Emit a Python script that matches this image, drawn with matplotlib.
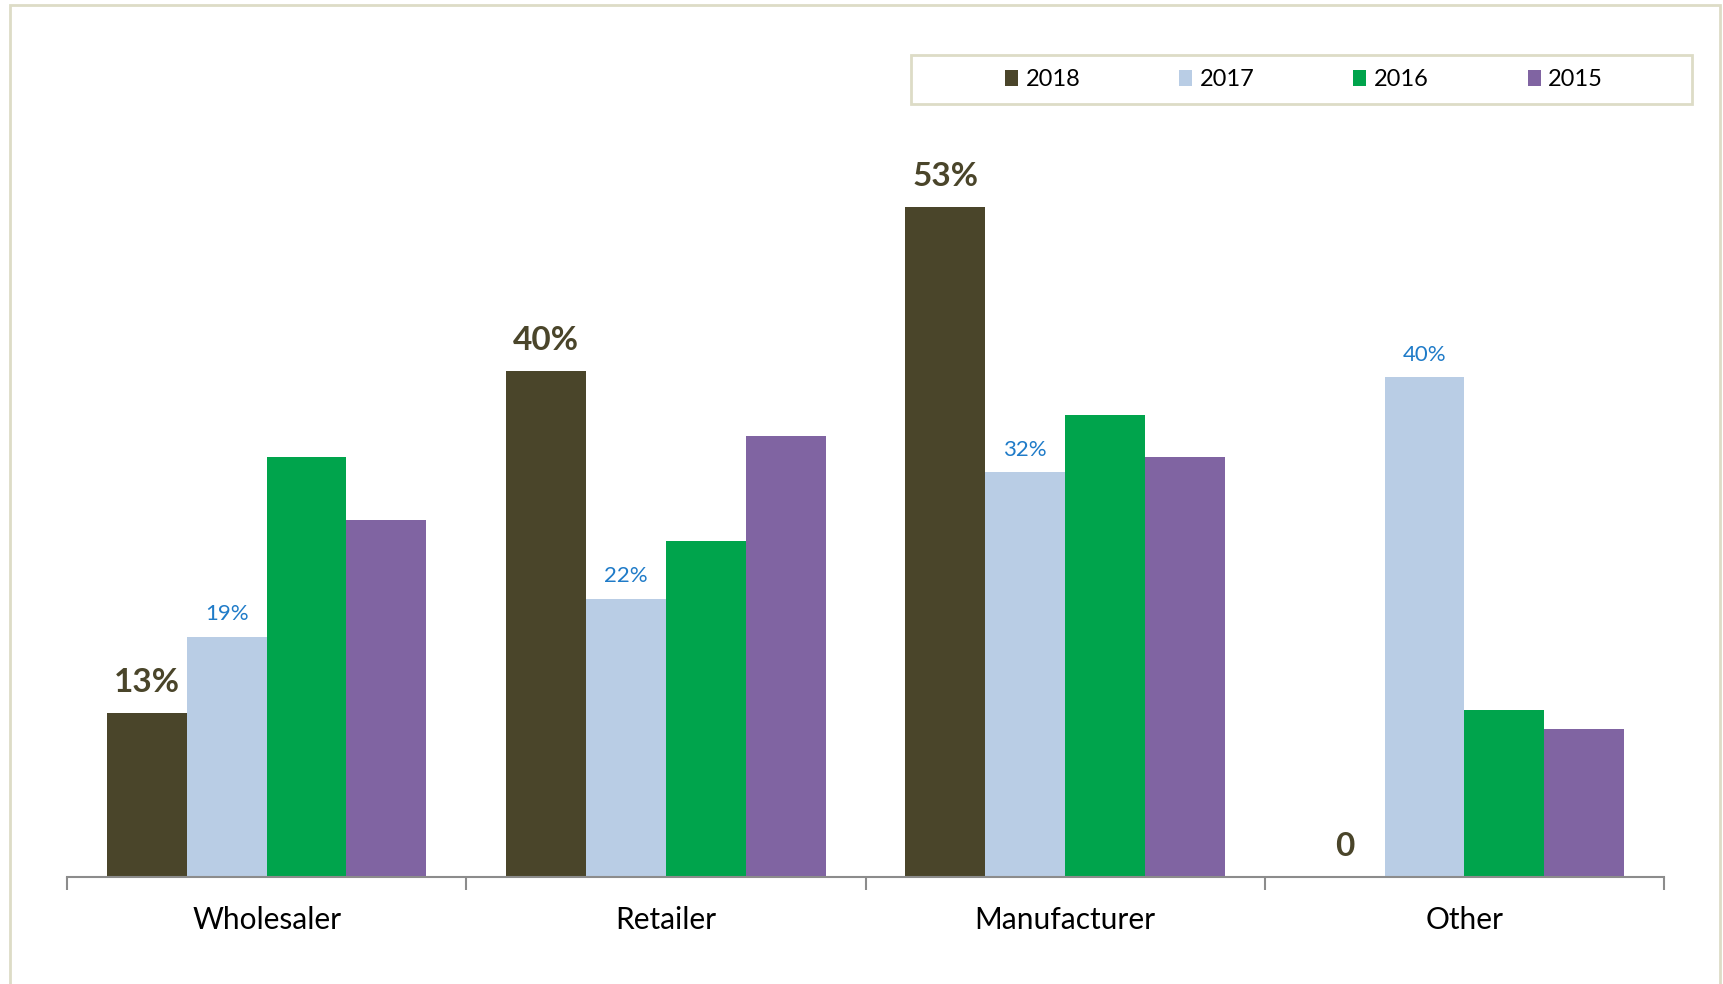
import numpy as np
import matplotlib.pyplot as plt
from matplotlib.patches import Rectangle

plt.rcParams['font.family'] = ['Lato', 'DejaVu Sans']

categories = ['Wholesaler', 'Retailer', 'Manufacturer', 'Other']
years = ['2018', '2017', '2016', '2015']
v2018 = [13, 40, 53, 0]
v2017 = [19, 22, 32, 39.5]
v2016 = [33.2, 26.6, 36.5, 13.2]
v2015 = [28.2, 34.9, 33.2, 11.7]
labels2018 = ['13%', '40%', '53%', '0']
labels2017 = ['19%', '22%', '32%', '40%']

colors = ['#4A452A', '#B9CDE5', '#00A44C', '#8064A2']

W, H = 1723, 984
fig = plt.figure(figsize=(W / 100, H / 100), dpi=100)
ax = fig.add_axes([67 / W, 1 - 877 / H, (1664 - 67) / W, (877 - 118) / H])

# outer frame
fig.patches.append(Rectangle((10 / W, -0.02), (1710) / W, 1 - 5 / H + 0.02,
                             transform=fig.transFigure, fill=False,
                             edgecolor='#DDDCC6', linewidth=2))

x = np.arange(len(categories))
bw = 0.2
series = [v2018, v2017, v2016, v2015]
bars = []
for i, vals in enumerate(series):
    b = ax.bar(x + (i - 1.5) * bw, vals, bw, color=colors[i], label=years[i])
    bars.append(b)

for rect, txt in zip(bars[0], labels2018):
    ax.annotate(txt, (rect.get_x() + rect.get_width() / 2, rect.get_height()),
                xytext=(0, 15), textcoords='offset points', ha='center',
                va='baseline', fontsize=24, fontweight='bold', color='#4A452A')
for rect, txt in zip(bars[1], labels2017):
    ax.annotate(txt, (rect.get_x() + rect.get_width() / 2, rect.get_height()),
                xytext=(0, 12), textcoords='offset points', ha='center',
                va='baseline', fontsize=16, color='#1F7BC8')

ax.set_xlim(-0.5, len(categories) - 0.5)
ax.set_ylim(0, 60)
for s in ['top', 'right', 'left']:
    ax.spines[s].set_visible(False)
ax.spines['bottom'].set_color('#8C8C8C')
ax.spines['bottom'].set_linewidth(1.5)
ax.set_yticks([])
ax.set_xticks(x)
ax.set_xticklabels(categories, fontsize=21.5)
ax.tick_params(axis='x', which='major', length=0, pad=21)
ax.set_xticks(np.arange(-0.5, len(categories)), minor=True)
ax.tick_params(axis='x', which='minor', length=9, width=1.5, color='#8C8C8C')

# legend box
fig.patches.append(Rectangle((911 / W, 1 - 104 / H), (1692 - 911) / W, 49 / H,
                             transform=fig.transFigure, fill=False,
                             edgecolor='#DDDCC6', linewidth=2))
fig.legend(loc='center', bbox_to_anchor=(1304 / W, 1 - 79.5 / H), ncol=4,
           frameon=False, fontsize=17, handlelength=0.55, handleheight=0.65,
           handletextpad=0.3, columnspacing=4.2)

fig.savefig('out.png', dpi=100, facecolor='white')
